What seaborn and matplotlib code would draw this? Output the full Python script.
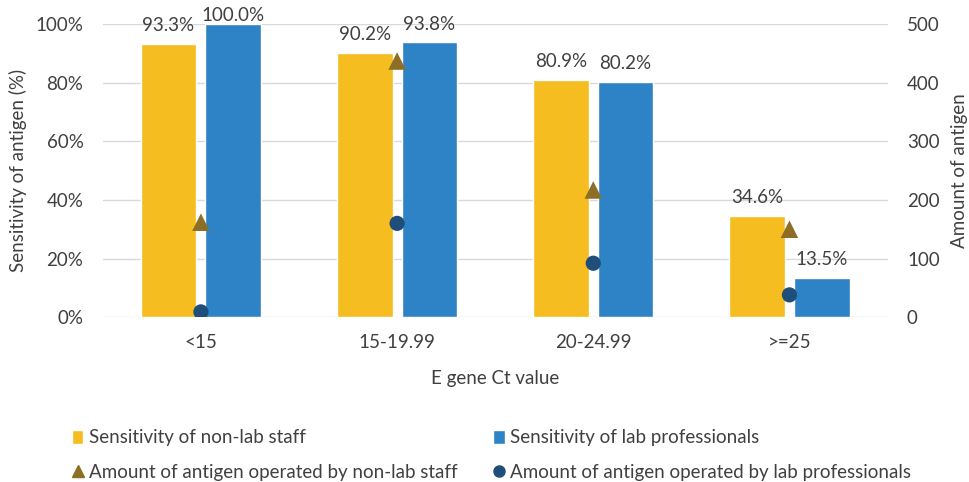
import numpy as np
import pandas as pd
import matplotlib
matplotlib.use("Agg")
import matplotlib.pyplot as plt
import seaborn as sns
from matplotlib.lines import Line2D
from matplotlib.patches import Patch

categories = ["<15", "15-19.99", "20-24.99", ">=25"]
sens_nonlab = [93.3, 90.2, 80.9, 34.6]
sens_lab = [100.0, 93.8, 80.2, 13.5]
amount_nonlab = [162, 437, 217, 150]
amount_lab = [9, 160, 92, 38]
series_names = ["Sensitivity of non-lab staff", "Sensitivity of lab professionals"]
marker_names = ["Amount of antigen operated by non-lab staff",
                "Amount of antigen operated by lab professionals"]

sns.set_theme(style="white")
plt.rcParams["font.family"] = ["Lato", "DejaVu Sans"]
TXT = "#404040"
FS = 13.5

df = pd.DataFrame({
    "cat": categories * 2,
    "val": sens_nonlab + sens_lab,
    "series": [series_names[0]] * 4 + [series_names[1]] * 4,
})

fig = plt.figure(figsize=(9.7, 4.82), dpi=100)
ax = fig.add_axes([0.106, 0.342, 0.809, 0.608])
colors = ["#F5BD1F", "#2E82C6"]
sns.barplot(data=df, x="cat", y="val", hue="series", palette=colors,
            width=0.66, gap=0.14, ax=ax, legend=False, saturation=1)
for c in ax.containers:
    anns = ax.bar_label(c, labels=[f"{v:.1f}%" for v in c.datavalues],
                        padding=7, fontsize=FS, color=TXT)
    for a, v in zip(anns, c.datavalues):
        if v >= 99:
            a.xyann = (0, 0)
ax.set_ylim(0, 100)
ax.set_xlim(-0.5, 3.5)
ax.set_yticks(np.arange(0, 101, 20))
ax.set_yticklabels([f"{int(t)}%" for t in np.arange(0, 101, 20)])
ax.grid(axis="y", color="#D9D9D9", linewidth=1)
ax.set_axisbelow(True)
for s in ax.spines.values():
    s.set_visible(False)
ax.tick_params(axis="both", length=0, labelsize=FS, colors=TXT)
ax.tick_params(axis="y", pad=14)
ax.tick_params(axis="x", pad=12)
ax.set_xlabel("E gene Ct value", fontsize=FS, color=TXT, labelpad=14)
ax.set_ylabel("Sensitivity of antigen (%)", fontsize=FS, color=TXT, labelpad=6)

ax2 = ax.twinx()
xpos = np.arange(len(categories))
sns.scatterplot(x=xpos, y=amount_nonlab, marker="^", s=160, color="#8C6F24",
                edgecolor="none", ax=ax2, zorder=5)
sns.scatterplot(x=xpos, y=amount_lab, marker="o", s=120, color="#1F4E7A",
                edgecolor="none", ax=ax2, zorder=5)
ax2.set_ylim(0, 500)
ax2.set_yticks(np.arange(0, 501, 100))
for s in ax2.spines.values():
    s.set_visible(False)
ax2.tick_params(axis="y", length=0, labelsize=FS, colors=TXT, pad=14)
ax2.set_ylabel("Amount of antigen", fontsize=FS, color=TXT, labelpad=8)
ax2.grid(False)
ax.set_xlim(-0.5, 3.5)

handles = [
    Patch(facecolor=colors[0]),
    Line2D([], [], marker="^", linestyle="none", color="#8C6F24", markersize=9),
    Patch(facecolor=colors[1]),
    Line2D([], [], marker="o", linestyle="none", color="#1F4E7A", markersize=8),
]
labels = [series_names[0], marker_names[0], series_names[1], marker_names[1]]
leg = fig.legend(handles, labels, ncol=2, loc="center left",
                 bbox_to_anchor=(0.057, 0.056), frameon=False,
                 fontsize=FS, handlelength=0.6, handleheight=0.8,
                 handletextpad=0.3, columnspacing=1.9, labelspacing=0.92)
for t in leg.get_texts():
    t.set_color(TXT)

fig.savefig("out.png", dpi=100)
